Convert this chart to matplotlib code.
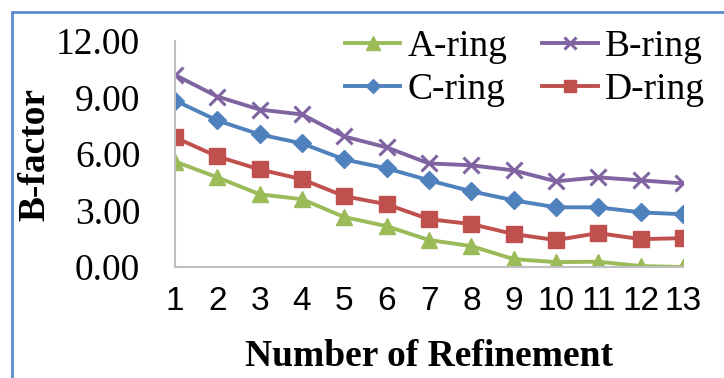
import numpy as np
import matplotlib.pyplot as plt
from matplotlib.patches import Rectangle

# data
refinement = list(range(1, 14))
a_ring = [5.6, 4.76, 3.86, 3.6, 2.65, 2.17, 1.43, 1.11, 0.42, 0.26, 0.28, 0.05, 0.0]
b_ring = [10.2, 9.05, 8.36, 8.1, 6.93, 6.35, 5.5, 5.4, 5.13, 4.55, 4.76, 4.6, 4.44]
c_ring = [8.84, 7.78, 7.04, 6.56, 5.71, 5.24, 4.6, 4.02, 3.54, 3.17, 3.17, 2.9, 2.8]
d_ring = [6.88, 5.87, 5.18, 4.66, 3.76, 3.33, 2.54, 2.28, 1.75, 1.43, 1.8, 1.48, 1.53]
yticks = [0, 3, 6, 9, 12]

serif = ['Liberation Serif', 'DejaVu Serif']
sans = ['Liberation Sans', 'DejaVu Sans']
fs = 27

fig = plt.figure(figsize=(7.24, 3.78), dpi=100)
ax = fig.add_axes([175/724, 1 - 267/378, (683-175)/724, (267-41)/378])

# outer chart border (Excel style)
fig.patches.append(Rectangle((12/724, -0.05), 1.2, 1 - 12/378 + 0.05, transform=fig.transFigure,
                             fill=False, edgecolor='#5B8BD0', linewidth=2))

lw = 2.8
la, = ax.plot(refinement, a_ring, color='#9BBB59', lw=lw, marker='^', ms=12, label='A-ring')
lb, = ax.plot(refinement, b_ring, color='#8064A2', lw=lw, marker='x', ms=11, mew=2.2, label='B-ring')
lc, = ax.plot(refinement, c_ring, color='#4F81BD', lw=lw, marker='D', ms=9.5, label='C-ring')
ld, = ax.plot(refinement, d_ring, color='#C0504D', lw=lw, marker='s', ms=11, label='D-ring')

ax.set_xlim(1, 13)
ax.set_ylim(0, 12)
ax.set_xticks(refinement)
ax.set_yticks(yticks)
ax.set_yticklabels(['%.2f' % v for v in yticks], family=serif, fontsize=fs)
ax.set_xticklabels([str(v) for v in refinement], family=sans, fontsize=24)
ax.tick_params(length=0)
ax.tick_params(axis='x', pad=14)
ax.tick_params(axis='y', pad=25)
for s in ['top', 'right']:
    ax.spines[s].set_visible(False)
for s in ['left', 'bottom']:
    ax.spines[s].set_color('#BFBFBF')
    ax.spines[s].set_linewidth(1.5)

ax.set_xlabel('Number of Refinement', family=serif, fontweight='bold', fontsize=fs)
ax.set_ylabel('B-factor', family=serif, fontweight='bold', fontsize=fs)
ax.xaxis.set_label_coords(0.5, -0.32)
ax.yaxis.set_label_coords(-0.242, 0.496)

leg = ax.legend([la, lc, lb, ld], ['A-ring', 'C-ring', 'B-ring', 'D-ring'], ncol=2,
                prop={'family': serif, 'size': fs}, frameon=False, loc='upper left',
                bbox_to_anchor=(345/724, 1 - 30/378), bbox_transform=fig.transFigure,
                handlelength=1.47, handletextpad=0.2, columnspacing=0.93,
                labelspacing=0.22, borderpad=0, borderaxespad=0, markerscale=0.8)

fig.savefig('out.png', dpi=100)
